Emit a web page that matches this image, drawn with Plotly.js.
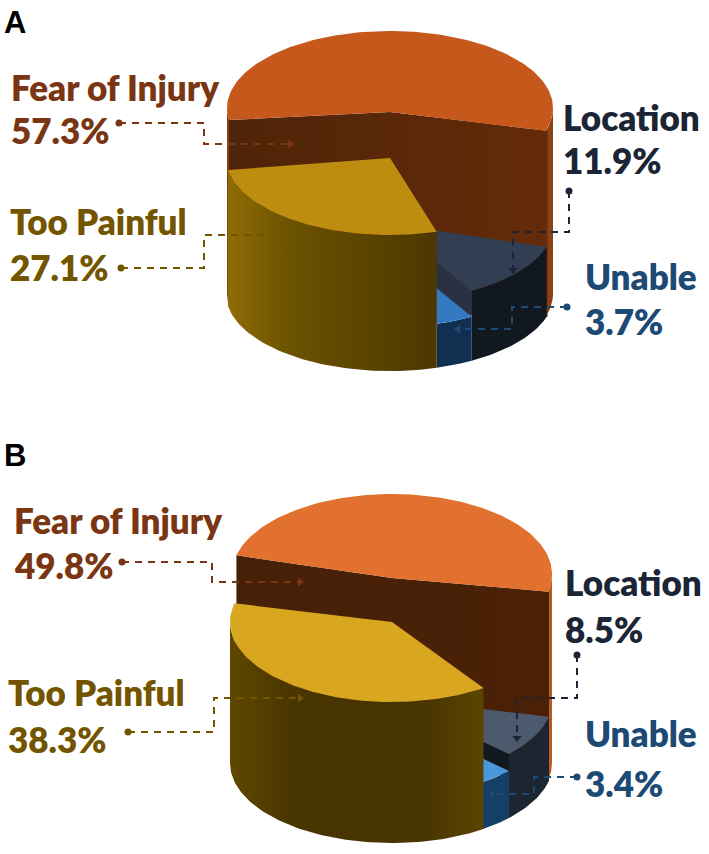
<!DOCTYPE html>
<html>
<head>
<meta charset="utf-8">
<script src="https://cdn.plot.ly/plotly-3.0.0.min.js"></script>
<style>html,body{margin:0;padding:0;background:#fff}#chart{width:709px;height:854px}</style>
</head>
<body>
<div id="chart"></div>
<script>
// ---- data (order runs clockwise round the pie) ----
var categories = ['Fear of Injury', 'Location', 'Unable', 'Too Painful'];
var sharesA = [57.3, 11.9, 3.7, 27.1];
var sharesB = [49.8, 8.5, 3.4, 38.3];
var panelLetters = ['A', 'B'];

// ---- drawing geometry and styling ----
var geomA = {start:171, cx:390, rx:163, ry:77, goldRx:164, darkRx:164, cutRx:165,
  topY:{fear:108, loc:224, unable:250, pain:158}, botY:294};
var geomB = {start:193.5, cx:392, rx:160, ry:80, goldRx:162, darkRx:161, cutRx:161,
  topY:{fear:574, loc:699, unable:716, pain:622}, botY:763};
var styleA = {top:'#C6581C', strip:'#8A4212', cut:['#4F2408','#642B0A'],
  goldTop:'#BE8C0F', goldWall:[[0,'#8F6C05'],[0.3,'#6B5100'],[1,'#4C3800']],
  darkTop:'#323F52', darkWall:'#12181F', darkFace:'#2A3142', blueTop:'#3279BF', blueWall:'#112F50'};
var styleB = {top:'#E2702E', strip:'#B85D22', cut:['#462007','#4A2107'],
  goldTop:'#D8A61F', goldWall:[[0,'#5F4800'],[0.25,'#493500'],[0.75,'#483400'],[1,'#5B4500']],
  darkTop:'#4C5A6E', darkWall:'#1C2530', darkFace:'#12181F', blueTop:'#4A98DC', blueWall:'#163F66'};
var labelColors = {'Fear of Injury':'#7A3512', 'Location':'#1B2535', 'Unable':'#1D4A75', 'Too Painful':'#735500'};
var labelPosA = {'Fear of Injury':[9,87,130], 'Location':[561,117,160], 'Unable':[583,276,321], 'Too Painful':[8,221,267]};
var labelPosB = {'Fear of Injury':[12,520,565], 'Location':[563,582,629], 'Unable':[583,733,783], 'Too Painful':[6,692,739]};
var letterPos = [[2,22],[2,455]];
var leaderPaths = [
  {c:'Fear of Injury', xs:[119,204,204,290], ys:[123,123,144,144], end:'triangle-right'},
  {c:'Too Painful', xs:[121,204,204,288], ys:[268,268,235,235], end:null},
  {c:'Location', xs:[569,569,513,513], ys:[191,232,232,270], end:'triangle-down'},
  {c:'Unable', xs:[567,512,512,458], ys:[307,307,329,329], end:'triangle-left'},
  {c:'Fear of Injury', xs:[122,212,212,300], ys:[562,562,582,582], end:'triangle-right'},
  {c:'Too Painful', xs:[128,214,214,300], ys:[732,732,698,698], end:'triangle-right'},
  {c:'Location', xs:[577,577,517,517], ys:[655,698,698,738], end:'triangle-down'},
  {c:'Unable', xs:[577,534,534,492], ys:[777,777,794,794], end:'triangle-left'}
];

var traces = [];
function pt(g, rx, cy, deg){
  var a = deg*Math.PI/180;
  return [g.cx + rx*Math.cos(a), cy + g.ry*Math.sin(a)];
}
function arc(g, rx, cy, d0, d1){
  var n = Math.max(2, Math.ceil(Math.abs(d1-d0)/1.5)), out = [];
  for (var i=0;i<=n;i++) out.push(pt(g, rx, cy, d0+(d1-d0)*i/n));
  return out;
}
function poly(points, color, gradient){
  var t = {
    x: points.map(function(p){return p[0];}).concat([points[0][0]]),
    y: points.map(function(p){return p[1];}).concat([points[0][1]]),
    mode:'lines', fill:'toself', line:{width:0}, hoverinfo:'skip', showlegend:false
  };
  if (gradient) t.fillgradient = {type:'horizontal', colorscale:gradient};
  else t.fillcolor = color;
  traces.push(t);
}
function wall(g, rx, topCy, d0, d1, color, gradient){
  poly(arc(g, rx, topCy, d0, d1).concat(arc(g, rx, g.botY, d1, d0)), color, gradient);
}
function drawPie(shares, g, s){
  var sweep = shares.map(function(v){return v*3.6;});
  var a0 = g.start, a1 = a0+sweep[0], a2 = a1+sweep[1], a3 = a2+sweep[2], a4 = a3+sweep[3];
  var T = g.topY;

  // fear of injury: outer strips, cut face, top
  wall(g, g.rx, T.fear, 0, a1-360, s.strip);
  if (a0 < 180) wall(g, g.rx, T.fear, a0, 180, s.strip);
  var cut = [pt(g,g.rx,T.fear,a0), [g.cx,T.fear+4], pt(g,g.cutRx,T.fear,a1), pt(g,g.cutRx,g.botY,a1), pt(g,g.rx,g.botY,a0)];
  poly(cut, null, [[0,s.cut[0]],[1,s.cut[1]]]);
  poly(arc(g, g.rx, T.fear, a0, a1).concat([[g.cx,T.fear+4]]), s.top);

  // location
  var darkA = a1-360, darkB = a2-360;
  wall(g, g.darkRx, T.loc, darkA, darkB, s.darkWall);
  poly([[g.cx,T.loc], pt(g,g.darkRx,T.loc,darkB), pt(g,g.darkRx,T.unable,darkB), [g.cx,T.unable]], s.darkFace);
  poly([[g.cx,T.loc]].concat(arc(g, g.darkRx, T.loc, darkA, darkB)), s.darkTop);

  // unable
  var blueA = a2-360, blueB = a3-360;
  wall(g, g.darkRx, T.unable, blueA, blueB, s.blueWall);
  poly([[g.cx,T.unable]].concat(arc(g, g.darkRx, T.unable, blueA, blueB)), s.blueTop);

  // too painful
  wall(g, g.goldRx, T.pain, blueB, Math.min(a4-360, 180), null, s.goldWall);
  poly([[g.cx,T.pain]].concat(arc(g, g.goldRx, T.pain, blueB, a4-360)), s.goldTop);
}
drawPie(sharesA, geomA, styleA);
drawPie(sharesB, geomB, styleB);

// leader lines with dot and arrowhead
leaderPaths.forEach(function(l){
  traces.push({
    x:l.xs, y:l.ys, mode:'lines+markers',
    line:{color:labelColors[l.c], width:2, dash:'7px,6px'},
    marker:{color:labelColors[l.c], opacity:1,
      size:[7,0,0,l.end?8:0],
      symbol:['circle','circle','circle',l.end||'circle'],
      line:{width:0}},
    hoverinfo:'skip', showlegend:false
  });
});

// text
var annotations = [];
function addLabel(txt, x, y, color, size, family, weight){
  annotations.push({xref:'x', yref:'y', x:x, y:y, text:txt, showarrow:false,
    xanchor:'left', yanchor:'middle', align:'left',
    font:{family:family, size:size, color:color, weight:weight}});
}
function addLabels(shares, pos){
  categories.forEach(function(c,i){
    var p = pos[c];
    addLabel(c, p[0], p[1], labelColors[c], 35, 'Lato', 800);
    addLabel(shares[i].toFixed(1)+'%', p[0], p[2], labelColors[c], 35, 'Lato', 800);
  });
}
addLabels(sharesA, labelPosA);
addLabels(sharesB, labelPosB);
panelLetters.forEach(function(t,i){
  addLabel(t, letterPos[i][0], letterPos[i][1], '#000000', 31, 'Liberation Sans', 700);
});

var layout = {
  width:709, height:854, margin:{l:0,r:0,t:0,b:0},
  paper_bgcolor:'#ffffff', plot_bgcolor:'#ffffff',
  xaxis:{range:[0,709], visible:false, fixedrange:true},
  yaxis:{range:[854,0], visible:false, fixedrange:true},
  showlegend:false, annotations:annotations
};
Plotly.newPlot('chart', traces, layout, {displayModeBar:false, staticPlot:true});
</script>
</body>
</html>
